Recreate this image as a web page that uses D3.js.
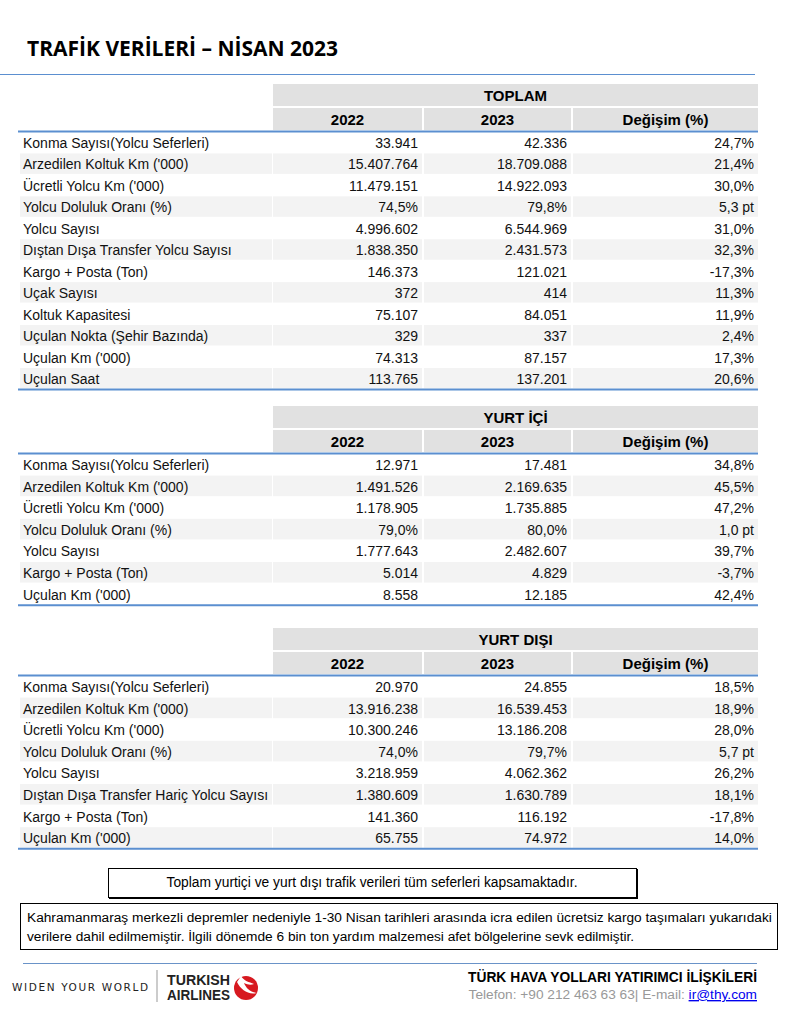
<!DOCTYPE html>
<html><head><meta charset="utf-8">
<script src="https://cdn.jsdelivr.net/npm/d3@7"></script>
<style>body{margin:0;background:#fff}svg{display:block}</style>
</head><body>
<script>
const title = "TRAFİK VERİLERİ – NİSAN 2023";
const columns = ["2022", "2023", "Değişim (%)"];

const toplamLabels = ["Konma Sayısı(Yolcu Seferleri)","Arzedilen Koltuk Km ('000)","Ücretli Yolcu Km ('000)","Yolcu Doluluk Oranı (%)","Yolcu Sayısı","Dıştan Dışa Transfer Yolcu Sayısı","Kargo + Posta (Ton)","Uçak Sayısı","Koltuk Kapasitesi","Uçulan Nokta (Şehir Bazında)","Uçulan Km ('000)","Uçulan Saat"];
const toplam2022 = ["33.941","15.407.764","11.479.151","74,5%","4.996.602","1.838.350","146.373","372","75.107","329","74.313","113.765"];
const toplam2023 = ["42.336","18.709.088","14.922.093","79,8%","6.544.969","2.431.573","121.021","414","84.051","337","87.157","137.201"];
const toplamChange = ["24,7%","21,4%","30,0%","5,3 pt","31,0%","32,3%","-17,3%","11,3%","11,9%","2,4%","17,3%","20,6%"];

const icLabels = ["Konma Sayısı(Yolcu Seferleri)","Arzedilen Koltuk Km ('000)","Ücretli Yolcu Km ('000)","Yolcu Doluluk Oranı (%)","Yolcu Sayısı","Kargo + Posta (Ton)","Uçulan Km ('000)"];
const ic2022 = ["12.971","1.491.526","1.178.905","79,0%","1.777.643","5.014","8.558"];
const ic2023 = ["17.481","2.169.635","1.735.885","80,0%","2.482.607","4.829","12.185"];
const icChange = ["34,8%","45,5%","47,2%","1,0 pt","39,7%","-3,7%","42,4%"];

const disLabels = ["Konma Sayısı(Yolcu Seferleri)","Arzedilen Koltuk Km ('000)","Ücretli Yolcu Km ('000)","Yolcu Doluluk Oranı (%)","Yolcu Sayısı","Dıştan Dışa Transfer Hariç Yolcu Sayısı","Kargo + Posta (Ton)","Uçulan Km ('000)"];
const dis2022 = ["20.970","13.916.238","10.300.246","74,0%","3.218.959","1.380.609","141.360","65.755"];
const dis2023 = ["24.855","16.539.453","13.186.208","79,7%","4.062.362","1.630.789","116.192","74.972"];
const disChange = ["18,5%","18,9%","28,0%","5,7 pt","26,2%","18,1%","-17,8%","14,0%"];

const note1 = "Toplam yurtiçi ve yurt dışı trafik verileri tüm seferleri kapsamaktadır.";
const note2 = ["Kahramanmaraş merkezli depremler nedeniyle 1-30 Nisan tarihleri arasında icra edilen ücretsiz kargo taşımaları yukarıdaki","verilere dahil edilmemiştir. İlgili dönemde 6 bin ton yardım malzemesi afet bölgelerine sevk edilmiştir."];

const tables = [
  {name:"TOPLAM", top:84, labels:toplamLabels, cols:[toplam2022,toplam2023,toplamChange], rowH:21.45},
  {name:"YURT İÇİ", top:406, labels:icLabels, cols:[ic2022,ic2023,icChange], rowH:21.6},
  {name:"YURT DIŞI", top:628, labels:disLabels, cols:[dis2022,dis2023,disChange], rowH:21.6}
];

const W = 788, H = 1024;
const svg = d3.select("body").append("svg").attr("width", W).attr("height", H);
const F = "'Liberation Sans', Arial, sans-serif";

// Title
svg.append("text").attr("x", 27).attr("y", 56).text(title)
  .attr("font-family", "'Open Sans', sans-serif").attr("font-weight", 700)
  .attr("font-size", 21).attr("fill", "#000");
svg.append("line").attr("x1", 0).attr("x2", 755).attr("y1", 74.5).attr("y2", 74.5)
  .attr("stroke", "#5b8fd0").attr("stroke-width", 1);

// column scale
const colX = d3.scaleOrdinal().domain([0,1,2]).range([273, 424, 573]);
const colW = [149, 147, 185];

tables.forEach(t => {
  const rowH = t.rowH;
  const g = svg.append("g");
  g.append("rect").attr("x", 273).attr("y", t.top).attr("width", 485).attr("height", 22).attr("fill", "#e1e1e1");
  g.append("text").attr("x", 273 + 485/2).attr("y", t.top + 16.5).attr("text-anchor", "middle")
    .attr("font-family", F).attr("font-weight", 700).attr("font-size", 15).text(t.name);
  columns.forEach((c, i) => {
    g.append("rect").attr("x", colX(i)).attr("y", t.top + 24).attr("width", colW[i]).attr("height", 22).attr("fill", "#e1e1e1");
    g.append("text").attr("x", colX(i) + colW[i]/2).attr("y", t.top + 40.5).attr("text-anchor", "middle")
      .attr("font-family", F).attr("font-weight", 700).attr("font-size", 15).text(c);
  });
  const bodyTop = t.top + 48;
  g.append("line").attr("x1", 18).attr("x2", 758).attr("y1", bodyTop - 0.5).attr("y2", bodyTop - 0.5)
    .attr("stroke", "#5b8fd0").attr("stroke-width", 2);
  const y = d3.scaleBand().domain(d3.range(t.labels.length)).range([bodyTop, bodyTop + rowH * t.labels.length]).padding(0);
  const rows = g.selectAll("g.row").data(t.labels).join("g").attr("class", "row");
  rows.each(function(lab, r){
    const rg = d3.select(this);
    const ry = y(r);
    if (r % 2 === 1) {
      rg.append("rect").attr("x", 20).attr("y", ry).attr("width", 252).attr("height", rowH - 1).attr("fill", "#f3f3f3");
      [0,1,2].forEach(i => rg.append("rect").attr("x", colX(i)).attr("y", ry).attr("width", colW[i]).attr("height", rowH - 1).attr("fill", "#f3f3f3"));
    }
    rg.append("text").attr("x", 23).attr("y", ry + 16).text(lab)
      .attr("font-family", F).attr("font-size", 14).attr("fill", "#111");
    t.cols.forEach((col, i) => {
      rg.append("text").attr("x", colX(i) + colW[i] - 4).attr("y", ry + 16).attr("text-anchor", "end")
        .text(col[r]).attr("font-family", F).attr("font-size", 14).attr("fill", "#111");
    });
  });
  const bodyBottom = bodyTop + rowH * t.labels.length;
  g.append("line").attr("x1", 18).attr("x2", 758).attr("y1", bodyBottom).attr("y2", bodyBottom)
    .attr("stroke", "#5b8fd0").attr("stroke-width", 2);
});

// Notes
svg.append("rect").attr("x", 108.5).attr("y", 868.5).attr("width", 528).attr("height", 29)
  .attr("fill", "#fff").attr("stroke", "#000").attr("stroke-width", 1);
svg.append("line").attr("x1", 637).attr("x2", 637).attr("y1", 869).attr("y2", 899).attr("stroke", "#000").attr("stroke-width", 2);
svg.append("line").attr("x1", 109).attr("x2", 638).attr("y1", 898).attr("y2", 898).attr("stroke", "#000").attr("stroke-width", 2);
svg.append("text").attr("x", 372).attr("y", 887).attr("text-anchor", "middle").text(note1)
  .attr("font-family", F).attr("font-size", 13.8);

svg.append("rect").attr("x", 20.5).attr("y", 903.5).attr("width", 757).attr("height", 46)
  .attr("fill", "#fff").attr("stroke", "#000").attr("stroke-width", 1);
note2.forEach((l, i) => {
  svg.append("text").attr("x", 27).attr("y", 922 + i*19).text(l)
    .attr("font-family", F).attr("font-size", 13.7);
});

// Footer
svg.append("line").attr("x1", 23).attr("x2", 757).attr("y1", 963.5).attr("y2", 963.5)
  .attr("stroke", "#6a93c8").attr("stroke-width", 1);
svg.append("text").attr("x", 12).attr("y", 991).text("WIDEN YOUR WORLD")
  .attr("font-family", "'DejaVu Sans', sans-serif").attr("font-size", 10.5)
  .attr("textLength", 136).attr("lengthAdjust", "spacing").attr("fill", "#222");
svg.append("line").attr("x1", 157).attr("x2", 157).attr("y1", 970).attr("y2", 1002).attr("stroke", "#999").attr("stroke-width", 1);
svg.append("text").attr("x", 167).attr("y", 985).text("TURKISH")
  .attr("font-family", F).attr("font-weight", 700).attr("font-size", 14)
  .attr("textLength", 63).attr("lengthAdjust", "spacingAndGlyphs").attr("fill", "#222");
svg.append("text").attr("x", 167).attr("y", 1000).text("AIRLINES")
  .attr("font-family", F).attr("font-weight", 700).attr("font-size", 14)
  .attr("textLength", 63).attr("lengthAdjust", "spacingAndGlyphs").attr("fill", "#222");
svg.append("circle").attr("cx", 246).attr("cy", 988).attr("r", 12).attr("fill", "#d71920");
svg.append("path").attr("d", "M237,982 C241,990 248,995 257,993 C250,992 246,988 244,983 C248,985 251,985 254,984 C249,982 244,981 241,976 Z")
  .attr("fill", "#fff");

svg.append("text").attr("x", 757).attr("y", 982).attr("text-anchor", "end").text("TÜRK HAVA YOLLARI YATIRIMCI İLİŞKİLERİ")
  .attr("font-family", F).attr("font-weight", 700).attr("font-size", 13.8).attr("fill", "#000");
const t2 = svg.append("text").attr("x", 757).attr("y", 999).attr("text-anchor", "end")
  .attr("font-family", F).attr("font-size", 13.7).attr("fill", "#999");
t2.append("tspan").text("Telefon: +90 212 463 63 63| E-mail: ");
t2.append("tspan").text("ir@thy.com").attr("fill", "#0000ee").attr("text-decoration", "underline");
</script>
</body></html>
